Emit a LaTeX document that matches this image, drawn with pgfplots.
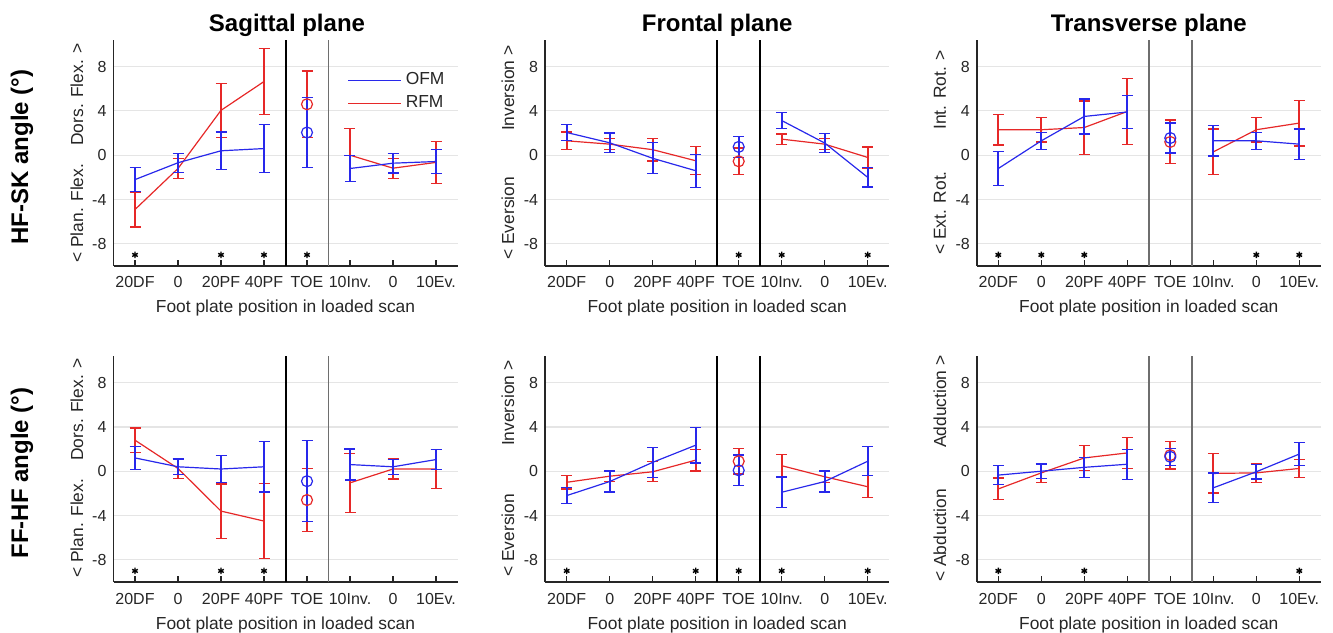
\documentclass[border=0pt]{standalone}
\usepackage{fontspec}
\setmainfont{Liberation Sans}
\usepackage{pgfplots}
\pgfplotsset{compat=1.18}
\definecolor{ofm}{RGB}{40,40,235}
\definecolor{rfm}{RGB}{230,40,40}
\definecolor{axgray}{RGB}{38,38,38}
\definecolor{sepgray}{RGB}{110,110,110}

\pgfplotsset{
  panel/.style={
    scale only axis, width=172pt, height=113pt, anchor=south west,
    xmin=0.5, xmax=8.5, ymin=-10, ymax=10.4,
    axis lines=left, axis line style={-, line width=0.8pt, draw=axgray},
    xtick={1,...,8}, xticklabels={20DF,0,20PF,40PF,TOE,10Inv.,0,10Ev.},
    ytick={-8,-4,0,4,8},
    ymajorgrids, grid style={line width=0.6pt, draw=black!10},
    tick align=inside, major tick length=3pt,
    xtick style={draw=axgray, line width=0.6pt},
    ytick style={draw=none},
    tick label style={font=\fontsize{8}{9.6}\selectfont, text=axgray},
    xticklabel style={anchor=base, yshift=-11pt},
    /pgf/number format/assume math mode=true,
    xlabel={Foot plate position in loaded scan},
    xlabel style={at={(axis description cs:0.5,0)}, anchor=base, yshift=-23.5pt,
      font=\fontsize{8.7}{10.4}\selectfont, text=axgray},
  },
  ebar/.style={line width=0.6pt, forget plot,
    error bars/y dir=both, error bars/y explicit,
    error bars/error bar style={line width=1pt},
    error bars/error mark options={rotate=90, mark size=2.75pt, line width=0.6pt}},
  grp/.style={ebar, mark=none},
  toe/.style={ebar, only marks, mark=o, mark size=2.75pt},
  ast/.style={only marks, mark=asterisk, mark size=1.6pt, black, mark options={line width=0.7pt}, forget plot},
  sepk/.style={black, line width=1pt, forget plot},
  sepg/.style={sepgray, line width=0.8pt, forget plot},
}
\newcommand{\ylab}[3]{%
  \node[rotate=90, anchor=west, inner sep=0pt, font=\fontsize{8.7}{10.4}\selectfont, text=axgray] at (#1,#2) {#3};}
\newcommand{\ylabtop}[3]{%
  \node[rotate=90, anchor=east, inner sep=0pt, font=\fontsize{8.7}{10.4}\selectfont, text=axgray] at (#1,#2) {#3};}

\begin{document}
\begin{tikzpicture}
\useasboundingbox (0pt,0pt) rectangle (666.5pt,316pt);

% ---------------- HF-SK, sagittal
\begin{axis}[panel, at={(56.75pt,183pt)},
  legend style={draw=none, fill=none, inner sep=0pt, at={(axis cs:5.93,7.85)}, anchor=north west,
    font=\fontsize{8.7}{10.5}\selectfont, text=axgray, cells={anchor=west}},
  legend image code/.code={\draw[#1, line width=0.7pt] (0pt,0pt) -- (26.5pt,0pt);}]
\addlegendimage{ofm}\addlegendentry{OFM}
\addlegendimage{rfm}\addlegendentry{RFM}
\addplot[sepk] coordinates {(4.5,-10) (4.5,10.4)};
\addplot[sepg] coordinates {(5.5,-10) (5.5,10.4)};
\addplot[rfm, grp] coordinates {(1,-4.9) +- (0,1.58) (2,-1.2) +- (0,0.9) (3,4.05) +- (0,2.45) (4,6.65) +- (0,3.0)};
\addplot[rfm, toe] coordinates {(5,4.6) +- (0,3.0)};
\addplot[rfm, grp] coordinates {(6,0.0) +- (0,2.4) (7,-1.17) +- (0,0.9) (8,-0.65) +- (0,1.9)};
\addplot[ofm, grp] coordinates {(1,-2.2) +- (0,1.07) (2,-0.68) +- (0,0.85) (3,0.4) +- (0,1.7) (4,0.6) +- (0,2.15)};
\addplot[ofm, toe] coordinates {(5,2.05) +- (0,3.15)};
\addplot[ofm, grp] coordinates {(6,-1.2) +- (0,1.2) (7,-0.72) +- (0,0.88) (8,-0.57) +- (0,1.05)};
\addplot[ast] coordinates {(1,-9) (3,-9) (4,-9) (5,-9)};
\end{axis}

% ---------------- HF-SK, frontal
\begin{axis}[panel, at={(272.6pt,183pt)}]
\addplot[sepk] coordinates {(4.5,-10) (4.5,10.4)};
\addplot[sepk] coordinates {(5.5,-10) (5.5,10.4)};
\addplot[rfm, grp] coordinates {(1,1.3) +- (0,0.8) (2,1.0) +- (0,0.5) (3,0.5) +- (0,1.03) (4,-0.5) +- (0,1.26)};
\addplot[rfm, toe] coordinates {(5,-0.55) +- (0,1.2)};
\addplot[rfm, grp] coordinates {(6,1.45) +- (0,0.47) (7,1.0) +- (0,0.5) (8,-0.2) +- (0,0.95)};
\addplot[ofm, grp] coordinates {(1,2.05) +- (0,0.72) (2,1.12) +- (0,0.88) (3,-0.28) +- (0,1.4) (4,-1.4) +- (0,1.5)};
\addplot[ofm, toe] coordinates {(5,0.75) +- (0,0.96)};
\addplot[ofm, grp] coordinates {(6,3.13) +- (0,0.75) (7,1.1) +- (0,0.88) (8,-2.0) +- (0,0.87)};
\addplot[ast] coordinates {(5,-9) (6,-9) (8,-9)};
\end{axis}

% ---------------- HF-SK, transverse
\begin{axis}[panel, at={(488.4pt,183pt)}]
\addplot[sepg] coordinates {(4.5,-10) (4.5,10.4)};
\addplot[sepg] coordinates {(5.5,-10) (5.5,10.4)};
\addplot[rfm, grp] coordinates {(1,2.3) +- (0,1.38) (2,2.3) +- (0,1.1) (3,2.5) +- (0,2.4) (4,3.95) +- (0,2.95)};
\addplot[rfm, toe] coordinates {(5,1.2) +- (0,1.97)};
\addplot[rfm, grp] coordinates {(6,0.3) +- (0,2.07) (7,2.3) +- (0,1.1) (8,2.9) +- (0,2.07)};
\addplot[ofm, grp] coordinates {(1,-1.2) +- (0,1.55) (2,1.3) +- (0,0.75) (3,3.5) +- (0,1.58) (4,3.9) +- (0,1.5)};
\addplot[ofm, toe] coordinates {(5,1.55) +- (0,1.35)};
\addplot[ofm, grp] coordinates {(6,1.3) +- (0,1.37) (7,1.3) +- (0,0.75) (8,1.0) +- (0,1.37)};
\addplot[ast] coordinates {(1,-9) (2,-9) (3,-9) (7,-9) (8,-9)};
\end{axis}

% ---------------- FF-HF, sagittal
\begin{axis}[panel, at={(56.75pt,25pt)}]
\addplot[sepk] coordinates {(4.5,-10) (4.5,10.4)};
\addplot[sepg] coordinates {(5.5,-10) (5.5,10.4)};
\addplot[rfm, grp] coordinates {(1,2.8) +- (0,1.1) (2,0.25) +- (0,0.9) (3,-3.6) +- (0,2.45) (4,-4.5) +- (0,3.37)};
\addplot[rfm, toe] coordinates {(5,-2.6) +- (0,2.81)};
\addplot[rfm, grp] coordinates {(6,-1.05) +- (0,2.65) (7,0.2) +- (0,0.9) (8,0.2) +- (0,1.75)};
\addplot[ofm, grp] coordinates {(1,1.2) +- (0,1.03) (2,0.4) +- (0,0.7) (3,0.2) +- (0,1.23) (4,0.4) +- (0,2.28)};
\addplot[ofm, toe] coordinates {(5,-0.9) +- (0,3.65)};
\addplot[ofm, grp] coordinates {(6,0.6) +- (0,1.4) (7,0.4) +- (0,0.68) (8,1.05) +- (0,0.9)};
\addplot[ast] coordinates {(1,-9) (3,-9) (4,-9)};
\end{axis}

% ---------------- FF-HF, frontal
\begin{axis}[panel, at={(272.6pt,25pt)}]
\addplot[sepk] coordinates {(4.5,-10) (4.5,10.4)};
\addplot[sepk] coordinates {(5.5,-10) (5.5,10.4)};
\addplot[rfm, grp] coordinates {(1,-1.0) +- (0,0.6) (2,-0.45) +- (0,0.5) (3,-0.05) +- (0,0.9) (4,1.0) +- (0,0.98)};
\addplot[rfm, toe] coordinates {(5,0.9) +- (0,1.15)};
\addplot[rfm, grp] coordinates {(6,0.5) +- (0,1.0) (7,-0.5) +- (0,0.5) (8,-1.4) +- (0,1.0)};
\addplot[ofm, grp] coordinates {(1,-2.2) +- (0,0.75) (2,-0.93) +- (0,0.95) (3,0.8) +- (0,1.34) (4,2.35) +- (0,1.6)};
\addplot[ofm, toe] coordinates {(5,0.08) +- (0,1.38)};
\addplot[ofm, grp] coordinates {(6,-1.9) +- (0,1.37) (7,-0.93) +- (0,0.95) (8,0.9) +- (0,1.31)};
\addplot[ast] coordinates {(1,-9) (4,-9) (5,-9) (6,-9) (8,-9)};
\end{axis}

% ---------------- FF-HF, transverse
\begin{axis}[panel, at={(488.4pt,25pt)}]
\addplot[sepg] coordinates {(4.5,-10) (4.5,10.4)};
\addplot[sepg] coordinates {(5.5,-10) (5.5,10.4)};
\addplot[rfm, grp] coordinates {(1,-1.6) +- (0,0.98) (2,-0.15) +- (0,0.87) (3,1.2) +- (0,1.1) (4,1.65) +- (0,1.38)};
\addplot[rfm, toe] coordinates {(5,1.45) +- (0,1.25)};
\addplot[rfm, grp] coordinates {(6,-0.2) +- (0,1.77) (7,-0.15) +- (0,0.87) (8,0.25) +- (0,0.83)};
\addplot[ofm, grp] coordinates {(1,-0.35) +- (0,0.83) (2,0.0) +- (0,0.65) (3,0.35) +- (0,0.9) (4,0.63) +- (0,1.35)};
\addplot[ofm, toe] coordinates {(5,1.3) +- (0,0.77)};
\addplot[ofm, grp] coordinates {(6,-1.5) +- (0,1.33) (7,-0.05) +- (0,0.65) (8,1.55) +- (0,1.05)};
\addplot[ast] coordinates {(1,-9) (3,-9) (8,-9)};
\end{axis}

% titles
\node[anchor=base, font=\bfseries\fontsize{12}{14}\selectfont] at (143.5pt,300pt) {Sagittal plane};
\node[anchor=base, font=\bfseries\fontsize{12}{14}\selectfont] at (358.6pt,300pt) {Frontal plane};
\node[anchor=base, font=\bfseries\fontsize{12}{14}\selectfont] at (574.4pt,300pt) {Transverse plane};
% row labels
\node[rotate=90, font=\bfseries\fontsize{12}{14}\selectfont] at (11pt,237.5pt) {HF-SK angle (°)};
\node[rotate=90, font=\bfseries\fontsize{12}{14}\selectfont] at (11pt,79.5pt) {FF-HF angle (°)};
% y labels
\ylab{38.5pt}{184.5pt}{< Plan. Flex.}
\ylabtop{38.5pt}{294.5pt}{Dors. Flex. >}
\ylab{254pt}{186pt}{< Eversion}
\ylabtop{254pt}{293.5pt}{Inversion >}
\ylab{470pt}{188.5pt}{< Ext. Rot.}
\ylabtop{470pt}{291pt}{Int. Rot. >}
\ylab{38.5pt}{27pt}{< Plan. Flex.}
\ylabtop{38.5pt}{137pt}{Dors. Flex. >}
\ylab{254pt}{27.5pt}{< Eversion}
\ylabtop{254pt}{136pt}{Inversion >}
\ylab{470pt}{25pt}{< Abduction}
\ylabtop{470pt}{138.5pt}{Adduction >}
\end{tikzpicture}
\end{document}
